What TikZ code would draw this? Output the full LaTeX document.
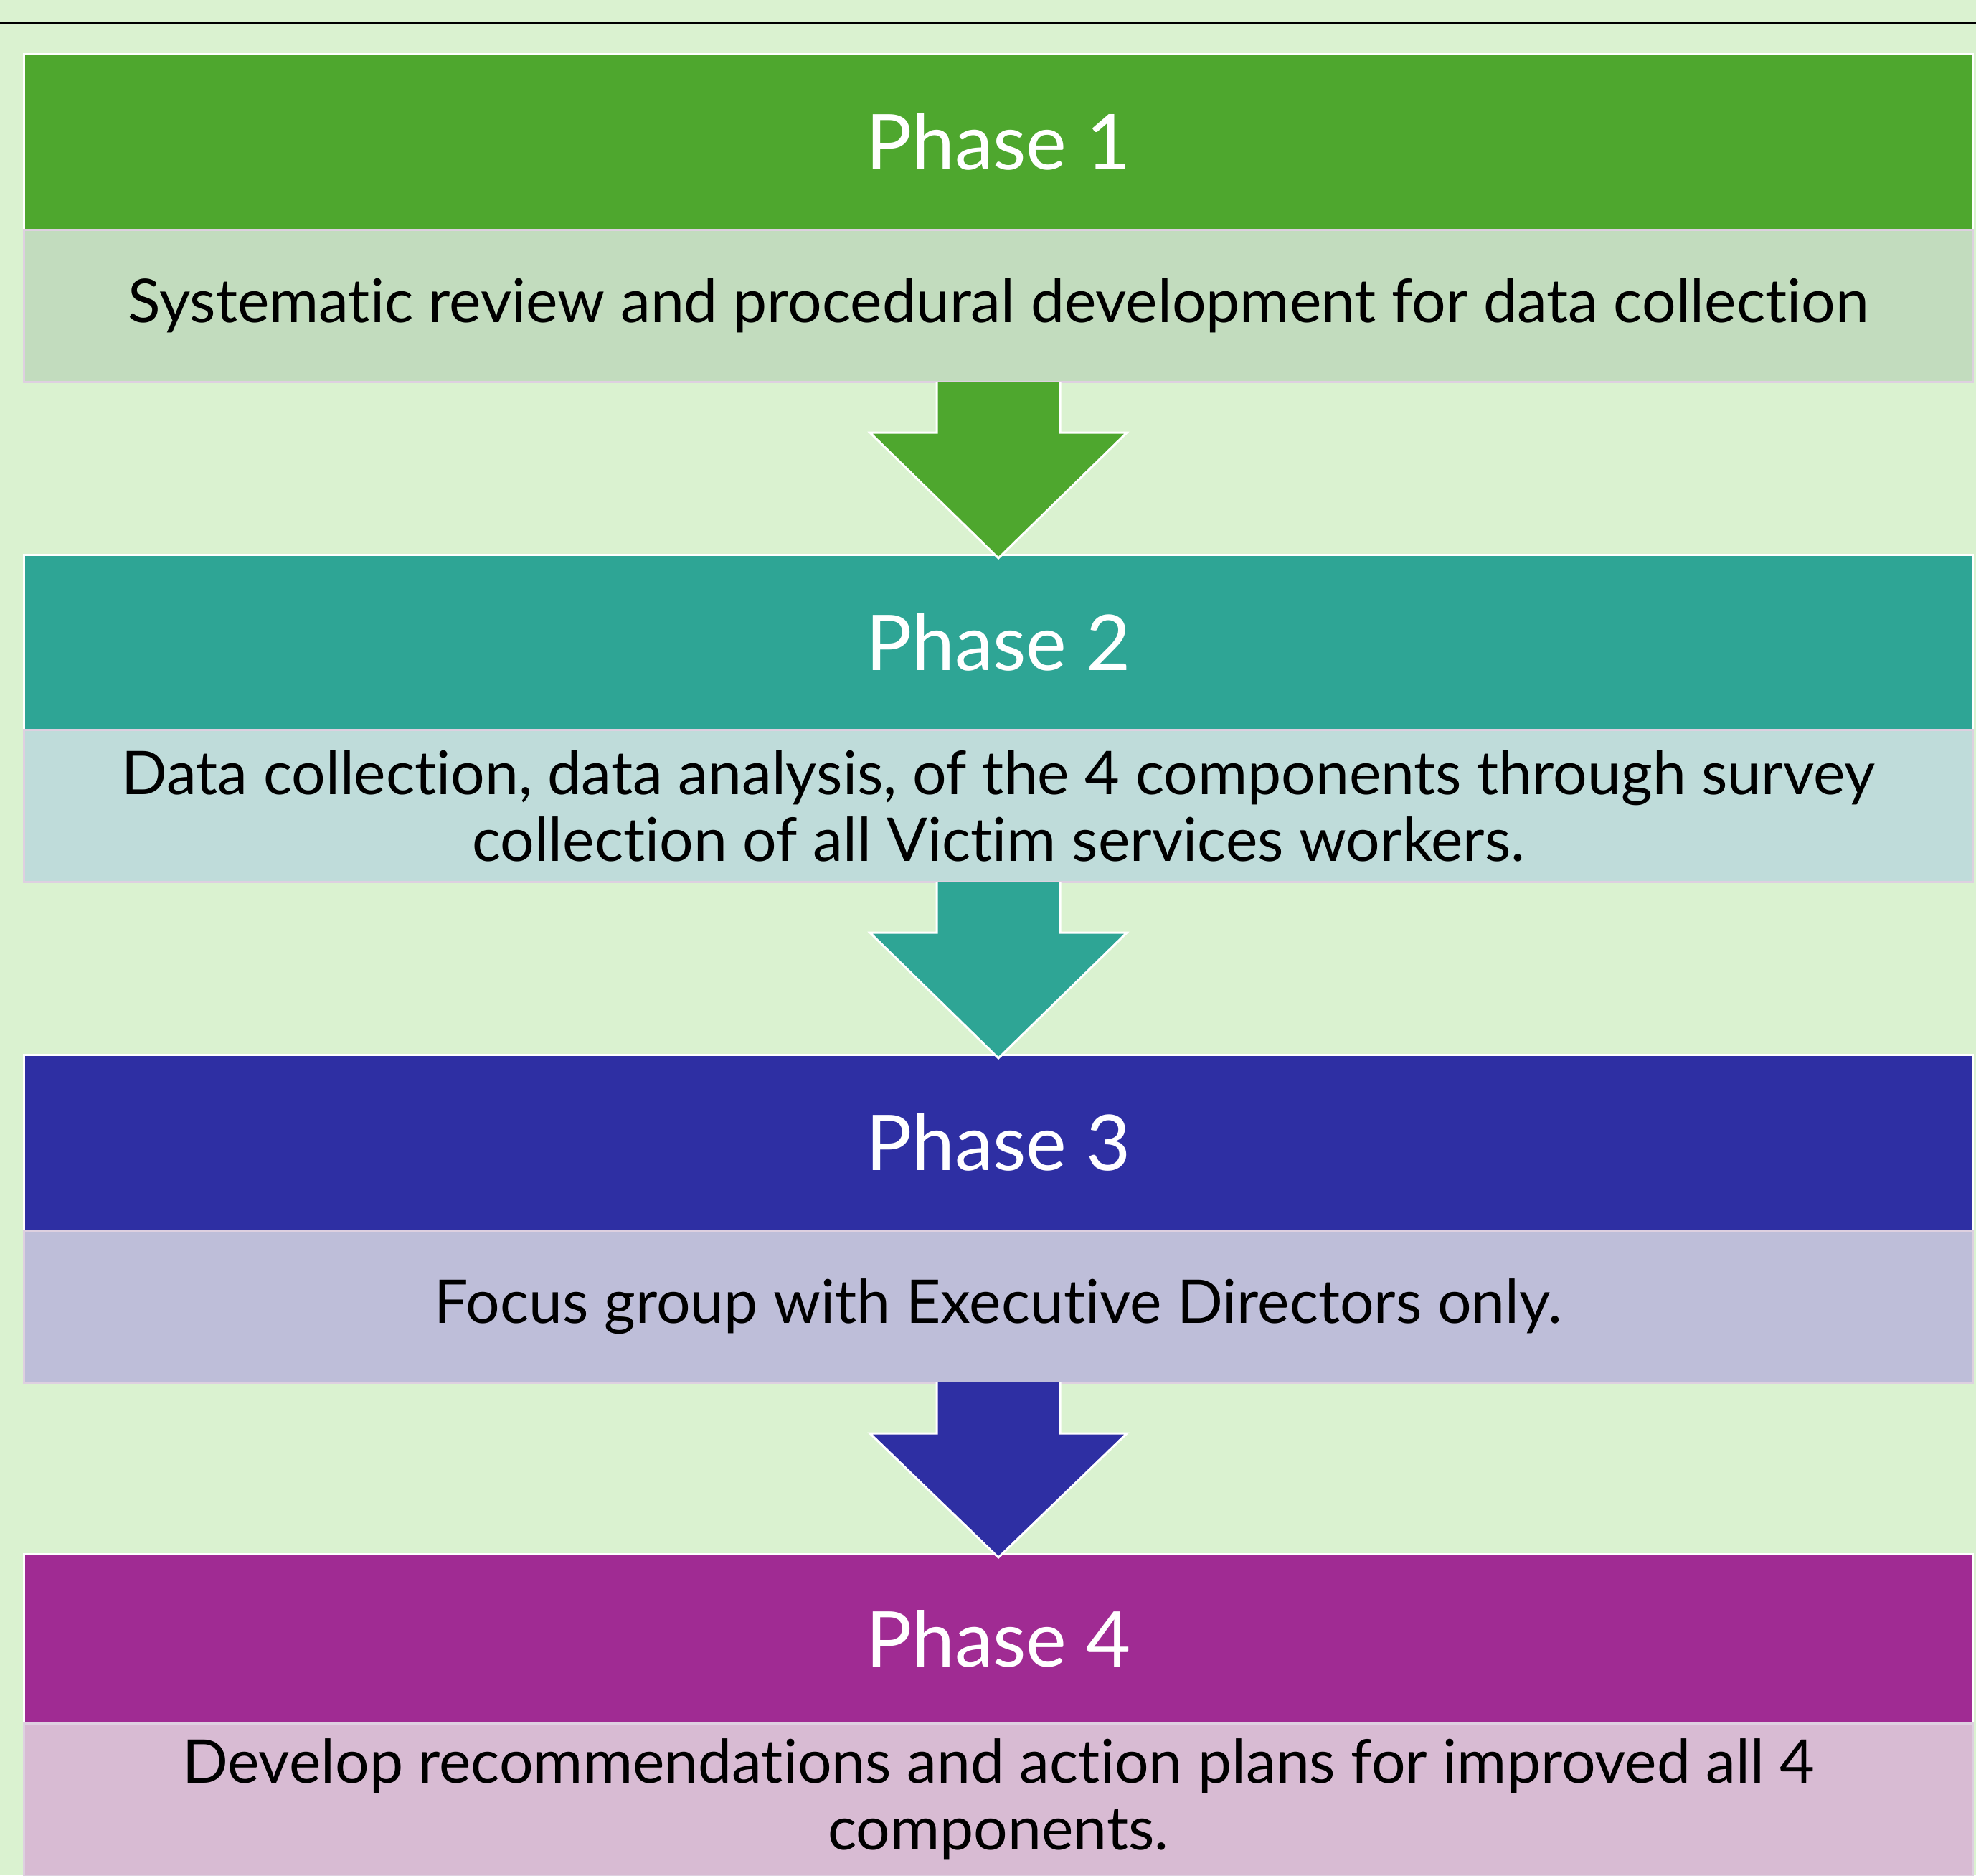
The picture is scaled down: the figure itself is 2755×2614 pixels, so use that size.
\documentclass[tikz,border=0pt]{standalone}
\usepackage{fontspec}
\setmainfont{Lato}[Ligatures=NoCommon]
\usetikzlibrary{calc}
\definecolor{bg}{RGB}{218,242,208}
\definecolor{hA}{RGB}{78,167,46}
\definecolor{bA}{RGB}{194,220,190}
\definecolor{hB}{RGB}{46,165,149}
\definecolor{bB}{RGB}{191,220,218}
\definecolor{hC}{RGB}{46,47,163}
\definecolor{bC}{RGB}{190,190,217}
\definecolor{hD}{RGB}{160,43,147}
\definecolor{bD}{RGB}{216,187,211}
\definecolor{bodyline}{RGB}{222,208,224}
\begin{document}
\begin{tikzpicture}[x=0.01cm,y=-0.01cm,
  hdr/.style={draw=white, line width=0.03cm, minimum width=27.16cm, minimum height=2.45cm,
    inner sep=0pt, outer sep=0pt, anchor=north, text=white, font=\fontsize{30.5}{36}\selectfont},
  bodybox/.style={draw=bodyline, line width=0.03cm, minimum width=27.16cm, minimum height=2.12cm,
    inner sep=0pt, outer sep=0pt, anchor=north, align=center, text=black, font=\fontsize{23.9}{26.5}\selectfont},
  arrowedge/.style={draw=white, line width=0.03cm, line join=miter}]
\useasboundingbox (0,0) rectangle (2755,2614);
\fill[bg] (0,0) rectangle (2755,2614);
\coordinate (ruleL) at (0,31);
\coordinate (ruleR) at (2755,31);
\draw[line width=0.03cm] (ruleL) -- (ruleR);

\node[hdr, fill=hA] (h1) at (1392,75) {Phase 1};
\node[bodybox, fill=bA] (b1) at (1392,320) {Systematic review and procedural development for data collection};
\node[hdr, fill=hB] (h2) at (1392,773) {Phase 2};
\node[bodybox, fill=bB] (b2) at (1392,1017) {Data collection, data analysis, of the 4 components through survey\\collection of all Victim services workers.};
\node[hdr, fill=hC] (h3) at (1392,1470) {Phase 3};
\node[bodybox, fill=bC] (b3) at (1392,1715) {Focus group with Executive Directors only.};
\node[hdr, fill=hD, minimum height=2.36cm] (h4) at (1392,2166) {Phase 4};
\node[bodybox, fill=bD, minimum height=2.13cm] (b4) at (1392,2402) {Develop recommendations and action plans for improved all 4\\components.};

\foreach \a/\b/\c in {b1/h2/hA, b2/h3/hB, b3/h4/hC}{
  \fill[\c] ($(\a.south)+(-86,0)$) -- ($(\a.south)+(-86,71)$) -- ($(\a.south)+(-179,71)$)
     -- ($(\b.north)+(0,5)$) -- ($(\a.south)+(179,71)$) -- ($(\a.south)+(86,71)$)
     -- ($(\a.south)+(86,0)$) -- cycle;
  \draw[arrowedge] ($(\a.south)+(-86,0)$) -- ($(\a.south)+(-86,71)$) -- ($(\a.south)+(-179,71)$)
     -- ($(\b.north)+(0,5)$) -- ($(\a.south)+(179,71)$) -- ($(\a.south)+(86,71)$)
     -- ($(\a.south)+(86,0)$);
}
\end{tikzpicture}
\end{document}
